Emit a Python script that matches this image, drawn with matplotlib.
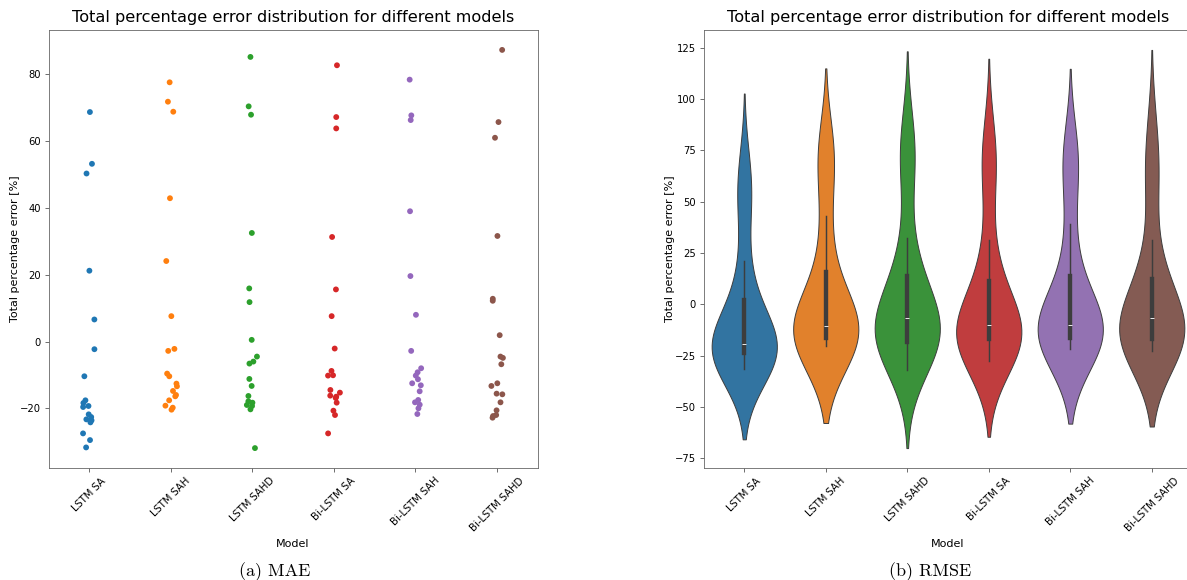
import numpy as np
import pandas as pd
import seaborn as sns
import matplotlib.pyplot as plt

# Erreur totale en pourcentage par modele
models = ["LSTM SA", "LSTM SAH", "LSTM SAHD", "Bi-LSTM SA", "Bi-LSTM SAH", "Bi-LSTM SAHD"]

lstm_sa = [68.7, 53.2, 50.3, 21.2, 6.6, -2.3, -10.4, -17.6, -18.4, -19.3, -19.6,
           -21.8, -22.6, -23.3, -23.6, -24.2, -27.5, -29.5, -31.7]
lstm_sah = [77.6, 71.8, 68.8, 42.9, 24.1, 7.6, -2.2, -2.8, -9.6, -10.4, -12.6,
            -13.4, -14.8, -16.0, -16.4, -17.6, -19.2, -19.8, -20.4]
lstm_sahd = [85.2, 70.4, 67.9, 32.5, 15.9, 11.8, 0.5, -4.5, -6.0, -6.6, -11.2,
             -13.3, -16.3, -17.9, -18.3, -19.0, -19.3, -20.3, -31.9]
bilstm_sa = [82.7, 67.2, 63.8, 31.3, 15.6, 7.6, -2.1, -8.8, -10.1, -10.2, -14.5,
             -15.3, -16.2, -16.5, -16.9, -18.3, -20.7, -22.0, -27.5]
bilstm_sah = [78.4, 67.7, 66.3, 39.0, 19.6, 8.0, -2.8, -8.0, -9.2, -10.2, -11.3,
              -12.5, -13.1, -14.9, -17.5, -18.2, -18.9, -20.0, -21.7]
bilstm_sahd = [87.3, 65.7, 61.0, 31.6, 12.8, 12.2, 1.9, -4.5, -4.9, -6.8, -12.5,
               -13.3, -15.6, -15.8, -18.2, -20.6, -22.0, -22.3, -22.8]

series = [lstm_sa, lstm_sah, lstm_sahd, bilstm_sa, bilstm_sah, bilstm_sahd]
df = pd.DataFrame({
    "Model": np.repeat(models, [len(s) for s in series]),
    "err": np.concatenate(series),
})

palette = sns.color_palette("tab10", len(models))
np.random.seed(3)  # jitter reproductible

fig = plt.figure(figsize=(11.87, 5.8), dpi=100)
ax1 = fig.add_axes([48.5 / 1187, 1 - 468 / 580, 489 / 1187, 438 / 580])
ax2 = fig.add_axes([703.5 / 1187, 1 - 468 / 580, 489 / 1187, 438 / 580])

tick_fs = 7.2
label_fs = 8.0

# (a) nuage de points
sns.stripplot(data=df, x="Model", y="err", hue="Model", palette=palette,
              legend=False, size=4.2, jitter=0.08, ax=ax1)

# (b) violons
sns.violinplot(data=df, x="Model", y="err", hue="Model", palette=palette,
               legend=False, linewidth=0.7, ax=ax2)
ax2.set_yticks(np.arange(-75, 126, 25))

for ax in (ax1, ax2):
    ax.set_title("Total percentage error distribution for different models", fontsize=11.6)
    ax.set_xlabel("Model", fontsize=label_fs)
    ax.set_ylabel("Total percentage error [%]", fontsize=label_fs, labelpad=0)
    ax.tick_params(axis="both", labelsize=tick_fs, width=0.6, length=3, pad=2.5, color="#555")
    plt.setp(ax.get_xticklabels(), rotation=45)
    for sp in ax.spines.values():
        sp.set_linewidth(0.6)
        sp.set_color("#666")

fig.text(275 / 1187, 1 - 572 / 580, "(a) MAE", family="cmr10", fontsize=13,
         ha="center", va="center")
fig.text(930 / 1187, 1 - 572 / 580, "(b) RMSE", family="cmr10", fontsize=13,
         ha="center", va="center")

fig.savefig("out.png", dpi=100)
